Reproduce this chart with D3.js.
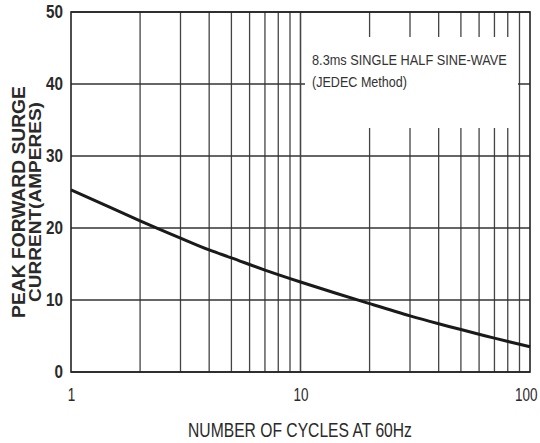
<!DOCTYPE html>
<html>
<head>
<meta charset="utf-8">
<script src="https://cdn.jsdelivr.net/npm/d3@7"></script>
<style>
  html, body { margin: 0; padding: 0; background: #fff; }
  svg { display: block; }
</style>
</head>
<body>
<svg id="chart" width="540" height="443"></svg>
<script>
// cycles (log axis) and peak surge current
const cycles = [1, 2, 3, 4, 5, 7, 10, 20, 30, 40, 50, 70, 100];
const amperes = [25.3, 21.0, 18.6, 16.95, 15.85, 14.15, 12.5, 9.5, 7.8, 6.7, 5.9, 4.7, 3.5];

const xMajor = [1, 10, 100];
const xGrid = [2, 3, 4, 5, 6, 7, 8, 9, 10, 20, 30, 40, 50, 60, 70, 80, 90];
const yTicks = [0, 10, 20, 30, 40, 50];

const note1 = "8.3ms SINGLE HALF SINE-WAVE";
const note2 = "(JEDEC Method)";

const font = "'Liberation Sans', Arial, sans-serif";
const ink = "#2a2a2a";

// squeeze a text horizontally to a width (the reference uses a condensed face)
function condense(sel, targetWidth) {
  sel.each(function () {
    const t = d3.select(this);
    const w = this.getComputedTextLength();
    const k = (typeof targetWidth === "function" ? targetWidth(t.datum()) : targetWidth) / w;
    const x0 = +(t.attr("x") || 0);
    t.attr("x", x0 / k).attr("transform", `scale(${k},1)`);
  });
}

const svg = d3.select("#chart");
const margin = { top: 12, right: 10, bottom: 71, left: 71 };
const width = 540 - margin.left - margin.right;
const height = 443 - margin.top - margin.bottom;

const g = svg.append("g").attr("transform", `translate(${margin.left},${margin.top})`);

const x = d3.scaleLog().domain([1, 100]).range([0, width]);
const y = d3.scaleLinear().domain([0, 50]).range([height, 0]);

// grid
g.append("g")
  .selectAll("line")
  .data(xGrid)
  .enter()
  .append("line")
  .attr("x1", d => x(d)).attr("x2", d => x(d))
  .attr("y1", 0).attr("y2", height)
  .attr("stroke", "#444")
  .attr("stroke-width", 1.3);

g.append("g")
  .selectAll("line")
  .data(yTicks)
  .enter()
  .append("line")
  .attr("x1", 0).attr("x2", width)
  .attr("y1", d => y(d)).attr("y2", d => y(d))
  .attr("stroke", "#333")
  .attr("stroke-width", 1.3);

// white box behind the note
g.append("rect")
  .attr("x", 234).attr("y", 25)
  .attr("width", 213).attr("height", 91)
  .attr("fill", "#fff");

// the line at 10 passes the note
g.append("line")
  .attr("x1", x(10)).attr("x2", x(10))
  .attr("y1", 0).attr("y2", height)
  .attr("stroke", "#444")
  .attr("stroke-width", 1.3);

// frame
g.append("rect")
  .attr("width", width).attr("height", height)
  .attr("fill", "none")
  .attr("stroke", "#222")
  .attr("stroke-width", 1.6);

// note
const noteG = g.append("g").attr("transform", "translate(241,0)");
noteG.append("text")
  .attr("y", 53)
  .attr("font-family", font)
  .attr("font-size", 15.5)
  .attr("fill", "#333")
  .text(note1)
  .call(condense, 195);
noteG.append("text")
  .attr("y", 75)
  .attr("font-family", font)
  .attr("font-size", 15.5)
  .attr("fill", "#333")
  .text(note2)
  .call(condense, 95);

// curve
const line = d3.line()
  .x((d, i) => x(cycles[i]))
  .y(d => y(d))
  .curve(d3.curveCatmullRom.alpha(0.5));

g.append("path")
  .datum(amperes)
  .attr("d", line)
  .attr("fill", "none")
  .attr("stroke", "#1a1a1a")
  .attr("stroke-width", 3);

// axes
const yAxis = g.append("g")
  .call(d3.axisLeft(y).tickValues(yTicks).tickSize(0).tickPadding(8));
yAxis.select(".domain").remove();
yAxis.selectAll("text")
  .attr("font-family", font)
  .attr("font-size", 18)
  .attr("font-weight", "bold")
  .attr("fill", ink)
  .call(condense, d => String(d).length * 8.5);

const xAxis = g.append("g")
  .attr("transform", `translate(0,${height})`)
  .call(d3.axisBottom(x).tickValues(xMajor).tickFormat(d3.format("d")).tickSize(0).tickPadding(16));
xAxis.select(".domain").remove();
xAxis.selectAll("text")
  .attr("font-family", font)
  .attr("font-size", 18)
  .attr("fill", ink);
// keep the last label inside the picture
xAxis.selectAll("text").filter(d => d === 100)
  .attr("text-anchor", "end")
  .attr("x", 7);
xAxis.selectAll("text").call(condense, d => String(d).length * 7.5);

// axis titles
svg.append("g")
  .attr("transform", "translate(300,437)")
  .append("text")
  .attr("text-anchor", "middle")
  .attr("font-family", font)
  .attr("font-size", 20)
  .attr("fill", ink)
  .text("NUMBER OF CYCLES AT 60Hz")
  .call(condense, 224);

const yTitle = svg.append("g")
  .attr("transform", "translate(25,202) rotate(-90)")
  .attr("font-family", font)
  .attr("font-weight", "bold")
  .attr("fill", ink);
yTitle.append("text")
  .attr("text-anchor", "middle")
  .attr("font-size", 19)
  .text("PEAK FORWARD SURGE")
  .call(condense, 232);
yTitle.append("text")
  .attr("text-anchor", "middle")
  .attr("y", 16.5)
  .attr("font-size", 17)
  .text("CURRENT(AMPERES)")
  .call(condense, 200);
</script>
</body>
</html>
